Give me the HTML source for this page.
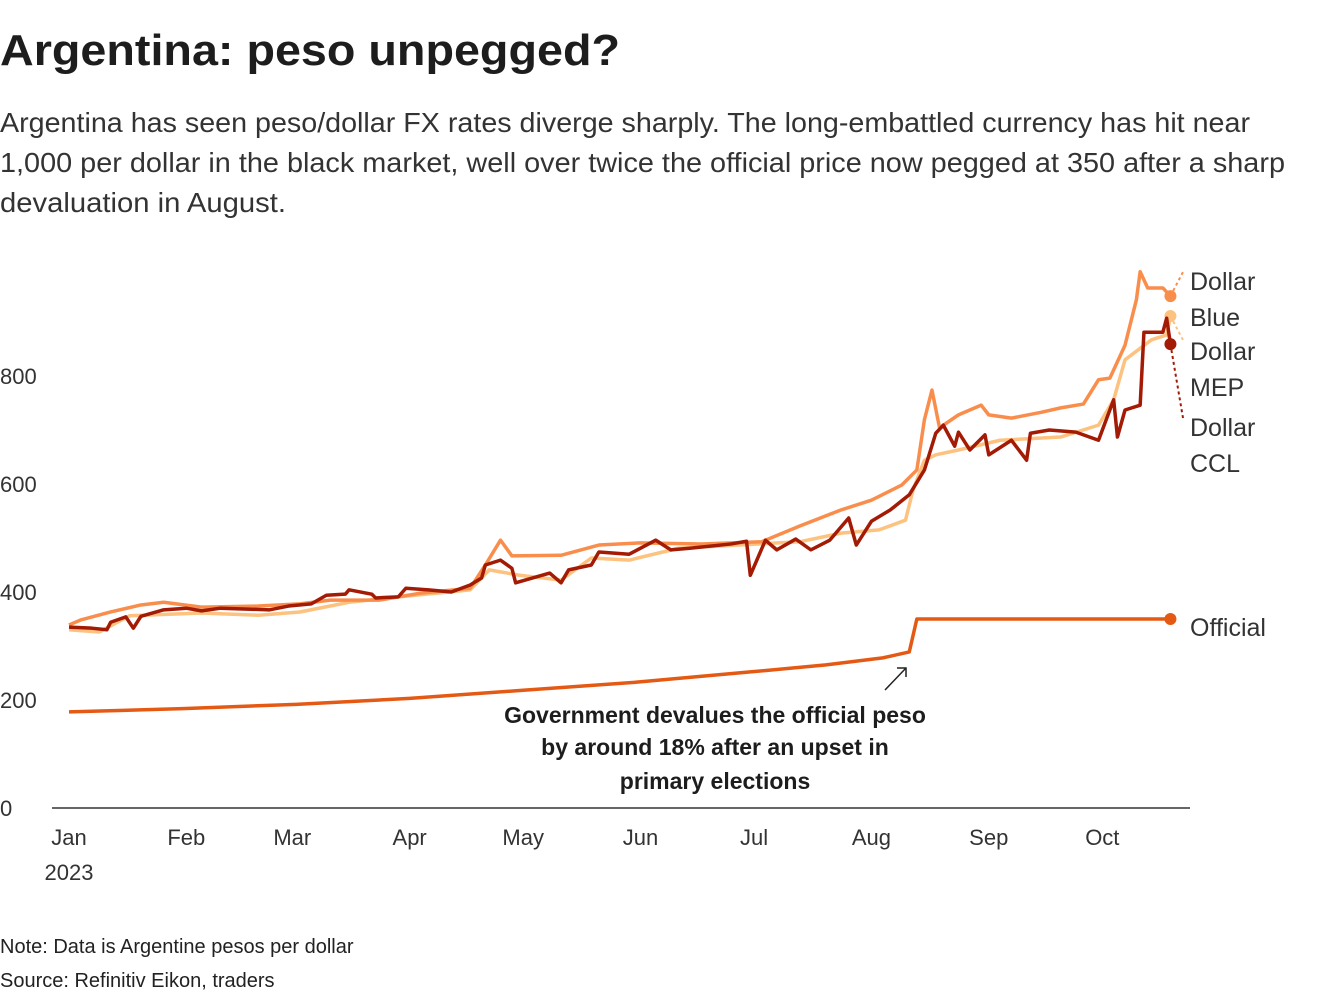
<!DOCTYPE html>
<html><head><meta charset="utf-8"><style>
html,body{margin:0;padding:0;background:#fff;}
svg{display:block;font-family:"Liberation Sans",sans-serif;}
</style></head><body>
<svg id="chart" width="1320" height="1000" viewBox="0 0 1320 1000" xmlns="http://www.w3.org/2000/svg">
<text x="0" y="65" font-size="44" font-weight="bold" fill="#1d1d1d" textLength="620" lengthAdjust="spacingAndGlyphs">Argentina: peso unpegged?</text>
<g font-size="28" fill="#333" font-weight="300">
<text x="0" y="132" textLength="1250" lengthAdjust="spacingAndGlyphs">Argentina has seen peso/dollar FX rates diverge sharply. The long-embattled currency has hit near</text>
<text x="0" y="172" textLength="1285" lengthAdjust="spacingAndGlyphs">1,000 per dollar in the black market, well over twice the official price now pegged at 350 after a sharp</text>
<text x="0" y="212" textLength="286" lengthAdjust="spacingAndGlyphs">devaluation in August.</text>
</g>
<g id="yaxis"></g>
<g id="xaxis"></g>
<line x1="52" y1="808" x2="1190" y2="808" stroke="#333" stroke-width="1.5"/>
<g id="series"></g>
<g font-size="25" fill="#333">
<text x="1190" y="290">Dollar</text>
<text x="1190" y="326">Blue</text>
<text x="1190" y="360">Dollar</text>
<text x="1190" y="396">MEP</text>
<text x="1190" y="436">Dollar</text>
<text x="1190" y="472">CCL</text>
<text x="1190" y="636">Official</text>
</g>
<g font-size="23" font-weight="bold" fill="#1d1d1d" text-anchor="middle">
<line x1="885" y1="690" x2="906" y2="668" stroke="#222" stroke-width="1.5"/>
<polyline points="897,668 906,668 906,677" fill="none" stroke="#222" stroke-width="1.5"/>
<text x="715" y="723">Government devalues the official peso</text>
<text x="715" y="755">by around 18% after an upset in</text>
<text x="715" y="789">primary elections</text>
</g>
<g font-size="20" fill="#222">
<text x="0" y="953">Note: Data is Argentine pesos per dollar</text>
<text x="0" y="987">Source: Refinitiv Eikon, traders</text>
</g>
</svg>
<script>
const yTicks=[0,200,400,600,800];
const monthLabels=["Jan","Feb","Mar","Apr","May","Jun","Jul","Aug","Sep","Oct"];
const monthDays=[0,31,59,90,120,151,181,212,243,273];
const officialDays=[0,30,60,90,120,150,180,200,215,222,224,291];
const officialVals=[178,184,192,203,218,233,252,265,278,289,350,350];
const blueDays=[0,3,11,19,25,35,50,61,69,82,93,106,110,114,117,130,140,151,167,183,193,204,212,220,224,226,228,230,235,241,243,249,257,262,268,272,275,279,282,283,285,289,291];
const blueVals=[339,348,363,376,381,372,374,378,385,385,398,407,450,496,467,468,487,491,489,493,522,552,570,598,626,719,774,704,728,746,728,722,733,741,748,793,796,857,941,993,963,963,948];
const mepDays=[0,8,16,35,50,61,74,87,106,111,119,130,138,148,161,177,193,204,214,221,223,226,229,235,246,262,272,276,279,286,290,291];
const mepVals=[330,326,356,361,357,363,381,391,404,441,431,422,463,459,481,487,493,509,515,533,589,644,654,663,681,687,709,756,830,867,876,911];
const cclDays=[0,6,10,11,15,17,19,25,31,35,40,53,58,64,68,73,74,80,81,87,89,95,101,106,109,110,114,117,118,127,130,132,138,140,148,155,159,164,175,179,180,184,187,192,196,201,206,208,212,217,222,226,229,231,234,235,238,242,243,249,253,254,259,266,272,276,277,279,283,284,289,290,291];
const cclVals=[335,333,330,344,354,333,355,367,370,365,370,367,374,378,394,396,404,396,389,391,407,404,400,413,426,450,459,444,417,435,417,441,450,474,470,496,478,481,489,494,431,496,478,498,478,496,537,487,531,552,580,626,694,709,670,696,663,691,654,681,644,694,700,696,681,756,687,737,746,881,881,907,859];

const X=d=>69+d*3.785;
const Y=v=>808-v*0.54;
const NS="http://www.w3.org/2000/svg";
function mk(tag,attrs,parent){const e=document.createElementNS(NS,tag);for(const k in attrs)e.setAttribute(k,attrs[k]);parent.appendChild(e);return e;}
const ya=document.getElementById('yaxis');
yTicks.forEach(t=>{const e=mk('text',{x:0,y:Y(t)+8,'font-size':22,fill:'#333'},ya);


e.textContent=t;});
const xa=document.getElementById('xaxis');
monthLabels.forEach((m,i)=>{const e=mk('text',{x:X(monthDays[i]),y:845,'font-size':22,fill:'#333','text-anchor':'middle'},xa);


e.textContent=m;});
const yr=mk('text',{x:X(0),y:880,'font-size':22,fill:'#333','text-anchor':'middle'},xa);


yr.textContent='2023';
const sg=document.getElementById('series');
function line(days,vals,color,name,lead){
  const p=mk('polyline',{points:days.map((d,i)=>X(d)+','+Y(vals[i])).join(' '),fill:'none',stroke:color,'stroke-width':3.5,'stroke-linejoin':'round'},sg);
  
  
  const n=days.length-1;
  const c=mk('circle',{cx:X(days[n]),cy:Y(vals[n]),r:6,fill:color},sg);
  
  
  if(lead){const l=mk('line',{x1:X(days[n]),y1:Y(vals[n]),x2:lead[0],y2:lead[1],stroke:color,'stroke-width':2,'stroke-dasharray':'3,3'},sg);
  
  }
}
line(mepDays,mepVals,'#fdc27f','dollar-mep',[1183,340]);
line(blueDays,blueVals,'#f98e4c','dollar-blue',[1183,272]);
line(cclDays,cclVals,'#a31a05','dollar-ccl',[1183,418]);
line(officialDays,officialVals,'#e45a14','official',null);
</script>
</body></html>
